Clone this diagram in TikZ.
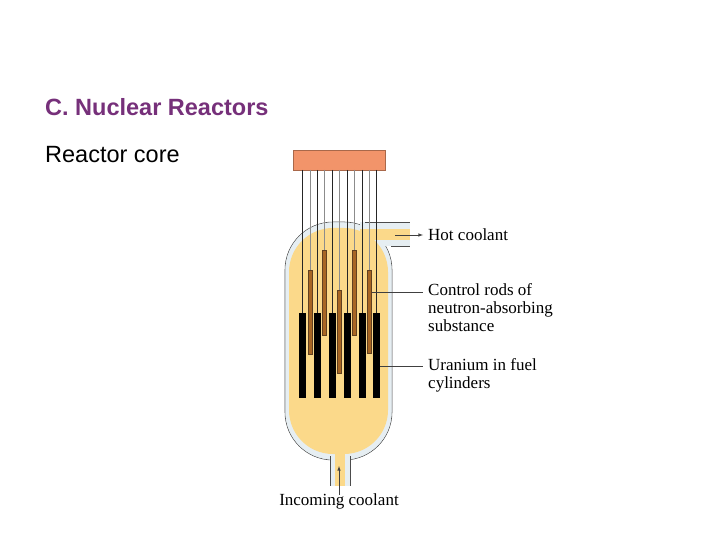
\documentclass[tikz,border=0pt]{standalone}
\usepackage{fontspec}
\setmainfont{Liberation Serif}
\newfontfamily\arial{Liberation Sans}
\begin{document}
\begin{tikzpicture}[x=1pt,y=-1pt,
  lbl/.style={anchor=west,font=\fontsize{17}{18}\selectfont,align=left,inner sep=0},
  lead/.style={draw=black!75,line width=0.6pt},
  fuel/.style={fill=black},
  rod/.style={fill=brown!70!orange!80!black,draw=brown!50!black,line width=0.3pt},
  wire/.style={line width=0.5pt,draw=black!85},
  gwire/.style={line width=0.5pt,draw=black!45}]
\useasboundingbox (0,0) rectangle (720,540);
\definecolor{shell}{HTML}{E6EEF2}
\definecolor{core}{HTML}{FBD98A}
\definecolor{plate}{HTML}{F2946A}
\definecolor{ttl}{HTML}{76307A}
\node[font=\arial\bfseries\fontsize{23.5}{26}\selectfont,text=ttl,anchor=west,inner sep=0] (title) at (45,107) {C. Nuclear Reactors};
\node[font=\arial\fontsize{23.5}{26}\selectfont,anchor=west,inner sep=0] (sub) at (45,155) {Reactor core};
% shell
\draw[black!70,fill=shell,line width=0.6pt,rounded corners=48] (285,222) rectangle (392,460);
\fill[shell,rounded corners=47.5] (285.5,222.5) rectangle (391.5,459.5);
\fill[shell] (330,440) rectangle (350,486);
\fill[shell] (360,222) rectangle (410,246);
\draw[black!70,line width=0.6pt] (330,456) -- (330,486) (350,456) -- (350,486);
\draw[black!70,line width=0.6pt] (365,222) -- (410,222) (391,246) -- (410,246);
% core
\fill[core,rounded corners=44] (289,228) rectangle (388,454);
\fill[core] (335,440) rectangle (345,486);
\fill[core] (360,229) rectangle (410,240);
% plate
\node[fill=plate,draw=plate!70!black,line width=0.4pt,minimum width=92pt,minimum height=20pt,inner sep=0] (pl) at (339,160) {};
% fuel and wires
\foreach \x [count=\i] in {302,317,332,347,362,376}{
  \draw[wire] (\x,170) -- (\x,313);
  \fill[fuel] (\x-3.5,313) rectangle (\x+3.5,398);
}
\foreach \x/\a/\b in {310/270/354,324/250/335,339/290/373,354/250/335,369/270/353}{
  \draw[gwire] (\x,170) -- (\x,\a);
  \filldraw[rod] (\x-2.3,\a) rectangle (\x+2.3,\b);
}
% labels
\node[lbl] (hot) at (428,235) {Hot coolant};
\node[lbl,anchor=north west] (ctrl) at (428,283) {Control rods of\\neutron-absorbing\\substance};
\node[lbl,anchor=north west] (ur) at (428,358) {Uranium in fuel\\cylinders};
\node[font=\fontsize{17}{18}\selectfont,inner sep=0] (inc) at (339,501) {Incoming coolant};
\coordinate (h0) at (395,235);
\coordinate (c0) at (372,292);
\coordinate (u0) at (380,366);
\coordinate (i0) at (339,466);
\draw[lead,-latex] (h0) -- ([xshift=-5pt]hot.west);
\draw[lead] (c0) -- ([xshift=-5pt]ctrl.west |- c0);
\draw[lead] (u0) -- ([xshift=-5pt]ur.west |- u0);
\draw[lead,-latex] ([yshift=-2pt]inc.north) -- (i0);
\end{tikzpicture}
\end{document}
